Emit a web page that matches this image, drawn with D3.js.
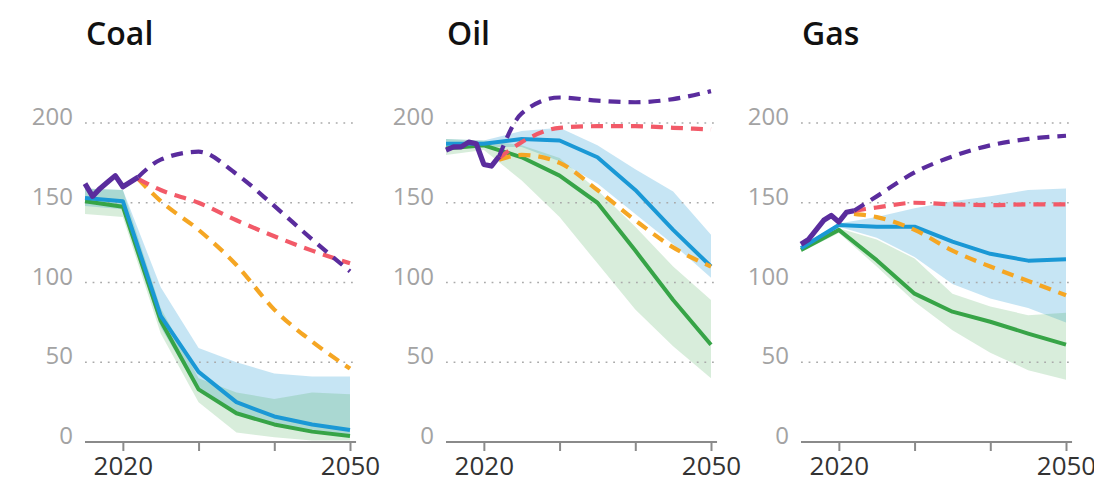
<!DOCTYPE html>
<html><head><meta charset="utf-8">
<script src="https://cdn.jsdelivr.net/npm/d3@7"></script>
<style>
html,body{margin:0;padding:0;background:#fff;}
svg{display:block;font-family:"Open Sans","Noto Sans",sans-serif;}
</style></head>
<body><svg id="c" width="1094" height="483"></svg>
<script>
// ---------- data ----------
const panelTitles = ["Coal", "Oil", "Gas"];
const yTicks = [0, 50, 100, 150, 200];
const xTicks = [2020, 2030, 2040, 2050];
const xTickLabels = ["2020", "", "", "2050"];
const bandYears = [2015, 2020, 2025, 2030, 2035, 2040, 2045, 2050];
const histYears = [2015, 2016, 2017, 2018, 2019, 2020, 2021, 2022];
const scenYears = [2022, 2025, 2030, 2035, 2040, 2045, 2050];

// Coal
const coalHist = [162, 154, 159, 163, 167, 160, 163, 166];
const coalPurple = [166, 177, 182, 168, 148, 127, 107];
const coalRed = [165, 158, 150, 139, 129, 120, 112];
const coalOrange = [165, 151, 133, 111, 83, 63, 46];
const coalBlue = [153, 151, 79, 44, 25, 16, 11, 7.5];
const coalGreen = [151, 147.5, 76, 33, 18, 11, 6.5, 3.8];
const coalBlueHi = [159, 158, 97, 59, 50, 43, 41, 41];
const coalBlueLo = [148, 146, 72, 32, 18, 11, 6, 3];
const coalGreenHi = [159, 158, 84, 40, 31, 27, 31, 30];
const coalGreenLo = [143, 141, 68, 25, 6, 3, 1, 1];

// Oil
const oilHist = [183, 185, 185, 188, 187, 174, 173, 179];
const oilPurple = [179, 206, 216, 214, 213, 215, 220];
const oilRed = [178, 188, 197, 198, 198, 197, 196];
const oilOrange = [177, 180, 175, 158, 139, 122, 110];
const oilBlue = [187, 187, 190, 189, 178.5, 158, 133, 110];
const oilGreen = [184, 186, 178.5, 167, 150, 120, 89, 61];
const oilBlueHi = [190, 189, 195, 197, 186, 171, 157, 130];
const oilBlueLo = [184, 185, 185, 176, 162, 143, 124, 103];
const oilGreenHi = [190, 189, 186, 178, 158, 135, 110, 89];
const oilGreenLo = [180, 183, 164, 141, 112, 83, 60, 40];

// Gas
const gasHist = [124, 127, 133, 139, 142, 138, 144, 145];
const gasPurple = [145, 154, 169, 179, 186, 190, 192];
const gasRed = [145, 147, 150, 149, 148.5, 149, 149];
const gasOrange = [143, 141, 133, 120, 110, 101, 92];
const gasBlue = [121.5, 136, 135, 135, 125.6, 118, 113.7, 114.5];
const gasGreen = [120.4, 133, 114, 93, 81.7, 75.4, 68, 61];
const gasBlueHi = [123, 137, 141, 146.5, 151, 154, 158, 159];
const gasBlueLo = [120, 135, 128, 116, 99, 90, 84, 75];
const gasGreenHi = [122, 134, 127, 115, 93, 85, 79.5, 81];
const gasGreenLo = [119, 131, 110, 88, 70, 56, 45, 39];

const panels = [
  {title: panelTitles[0], hist: coalHist, purple: coalPurple, red: coalRed, orange: coalOrange,
   blue: coalBlue, green: coalGreen, blueHi: coalBlueHi, blueLo: coalBlueLo, greenHi: coalGreenHi, greenLo: coalGreenLo},
  {title: panelTitles[1], hist: oilHist, purple: oilPurple, red: oilRed, orange: oilOrange,
   blue: oilBlue, green: oilGreen, blueHi: oilBlueHi, blueLo: oilBlueLo, greenHi: oilGreenHi, greenLo: oilGreenLo},
  {title: panelTitles[2], hist: gasHist, purple: gasPurple, red: gasRed, orange: gasOrange,
   blue: gasBlue, green: gasGreen, blueHi: gasBlueHi, blueLo: gasBlueLo, greenHi: gasGreenHi, greenLo: gasGreenLo}
];

// ---------- layout ----------
const panelX0 = [85, 446, 801];
const plotW = 265;
const yTop = 123, yBottom = 442;
const C = {purple: "#5a2c9d", red: "#f25a68", orange: "#f5a623", blue: "#1a98d5", green: "#37a447",
           blueBand: "#1a98d5", greenBand: "#3aa64b", grid: "#aaaaaa", axis: "#8a8a8a"};

const svg = d3.select("#c");
const y = d3.scaleLinear().domain([0, 200]).range([yBottom, yTop]);

panels.forEach((p, i) => {
  const x0 = panelX0[i];
  const x = d3.scaleLinear().domain([2015, 2050]).range([x0, x0 + plotW]);
  const g = svg.append("g");
  const xEnd = x(2050.8);

  // title
  g.append("text").attr("x", x0 + 1).attr("y", 45).text(p.title)
    .attr("font-size", 32).attr("font-weight", 600).attr("fill", "#111");

  // bands
  const area = (hi, lo) => d3.area().x((d, k) => x(bandYears[k])).y0((d, k) => y(lo[k])).y1((d, k) => y(hi[k]));
  g.append("path").datum(bandYears).attr("d", area(p.blueHi, p.blueLo))
    .attr("fill", C.blueBand).attr("fill-opacity", 0.25);
  g.append("path").datum(bandYears).attr("d", area(p.greenHi, p.greenLo))
    .attr("fill", C.greenBand).attr("fill-opacity", 0.2);

  // gridlines
  yTicks.filter(t => t > 0).forEach(t => {
    g.append("line").attr("x1", x0).attr("x2", xEnd).attr("y1", y(t)).attr("y2", y(t))
      .attr("stroke", C.grid).attr("stroke-width", 1.7).attr("stroke-dasharray", "1.8,5.8");
  });
  // y labels
  yTicks.forEach(t => {
    g.append("text").attr("x", x0 - 12).attr("y", y(t) + 2).attr("text-anchor", "end")
      .attr("font-size", 24).attr("fill", "#a3a3a3").text(t);
  });

  // x axis
  const ax = d3.axisBottom(x).tickValues(xTicks).tickSize(9).tickSizeOuter(0)
    .tickFormat((d, k) => xTickLabels[k]);
  const axg = g.append("g").attr("transform", `translate(0,${yBottom})`).call(ax);
  axg.select(".domain").attr("d", `M${x0},0H${xEnd}`).attr("stroke", C.axis).attr("stroke-width", 2);
  axg.selectAll(".tick line").attr("stroke", C.axis).attr("stroke-width", 2);
  axg.selectAll(".tick text").attr("font-size", 26).attr("fill", "#333").attr("dy", 0).attr("y", 33)
    .attr("font-family", "\"Open Sans\",sans-serif");

  // lines
  const solid = vals => d3.line().x((d, k) => x(bandYears[k])).y((d, k) => y(vals[k]));
  const dashed = vals => d3.line().curve(d3.curveMonotoneX).x((d, k) => x(scenYears[k])).y((d, k) => y(vals[k]));
  g.append("path").datum(bandYears).attr("d", solid(p.green)).attr("fill", "none")
    .attr("stroke", C.green).attr("stroke-width", 4).attr("stroke-linejoin", "round");
  g.append("path").datum(bandYears).attr("d", solid(p.blue)).attr("fill", "none")
    .attr("stroke", C.blue).attr("stroke-width", 4).attr("stroke-linejoin", "round");
  [["orange", p.orange], ["red", p.red], ["purple", p.purple]].forEach(([c, vals]) => {
    g.append("path").datum(scenYears).attr("d", dashed(vals)).attr("fill", "none")
      .attr("stroke", C[c]).attr("stroke-width", 4.2).attr("stroke-dasharray", "12,8");
  });
  const hl = d3.line().x((d, k) => x(histYears[k])).y((d, k) => y(p.hist[k]));
  g.append("path").datum(histYears).attr("d", hl(histYears)).attr("fill", "none")
    .attr("stroke", C.purple).attr("stroke-width", 5.2).attr("stroke-linejoin", "round");
});
</script></body></html>
